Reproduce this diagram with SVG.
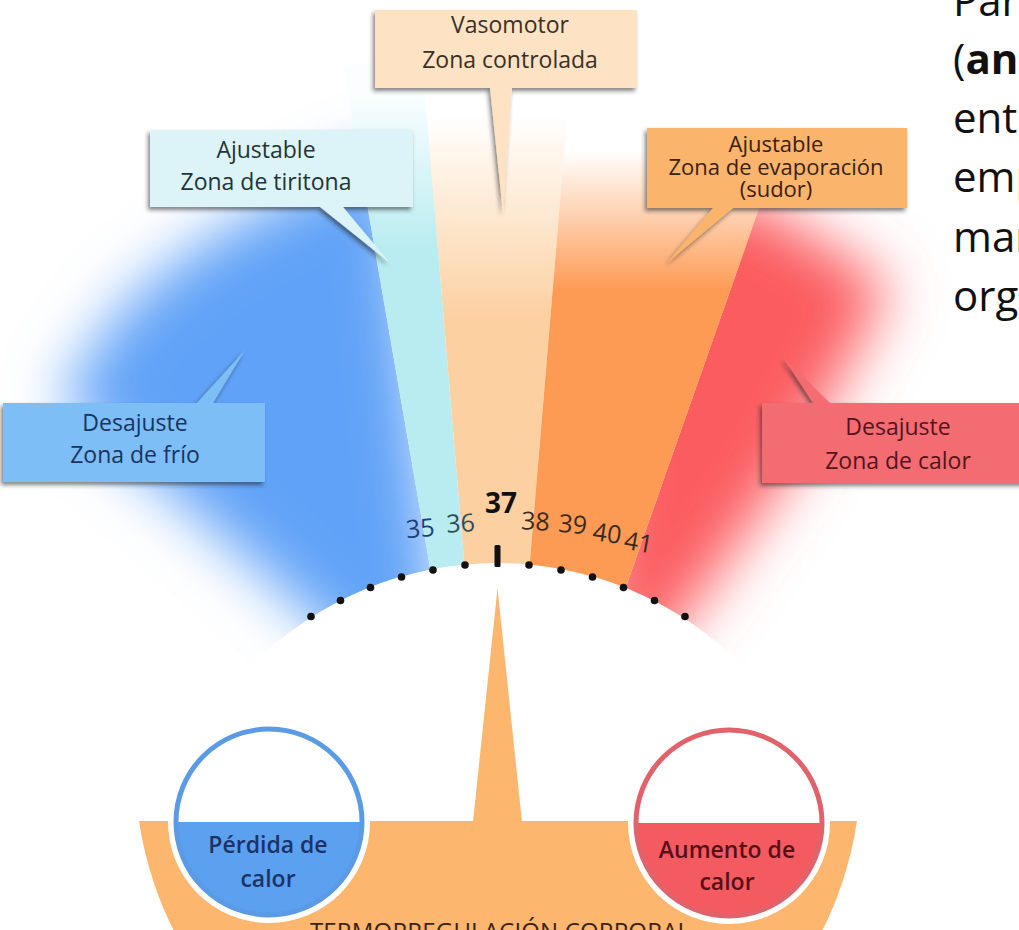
<svg xmlns="http://www.w3.org/2000/svg" width="1019" height="930" viewBox="0 0 1019 930">
<defs>
<style>
.bx{font-family:"Open Sans","Noto Sans",sans-serif;font-size:23px;text-anchor:middle}
.ev{font-size:22px}
.cir{font-weight:600}
.num{font-family:"Open Sans","Noto Sans",sans-serif;font-size:25px;text-anchor:middle}
.big{font-size:28px;font-weight:bold}
.side{font-family:"Open Sans","Noto Sans",sans-serif;font-size:42px;fill:#111}
.dot{fill:#111}
.ring{fill:none;stroke-width:5}
</style>
<filter id="soft" filterUnits="userSpaceOnUse" x="-300" y="-300" width="1700" height="1600"><feGaussianBlur stdDeviation="30"/></filter>
<filter id="shadow" x="-10%" y="-20%" width="120%" height="150%"><feDropShadow dx="-2" dy="3" stdDeviation="2" flood-color="#222" flood-opacity="0.55"/></filter>
<clipPath id="clipBlue"><polygon points="497,953 323,-50 -300,-50 -300,1300 497,1300"/></clipPath>
<clipPath id="clipRed"><polygon points="497,953 850,-50 1300,-50 1300,1300 497,1300"/></clipPath>
<linearGradient id="gCyan" gradientUnits="userSpaceOnUse" x1="0" y1="92" x2="0" y2="250"><stop offset="0" stop-color="#b8ecf0" stop-opacity="0.05"/><stop offset="1" stop-color="#b8ecf0"/></linearGradient>
<linearGradient id="gPeach" gradientUnits="userSpaceOnUse" x1="0" y1="115" x2="0" y2="320"><stop offset="0" stop-color="#fcd0a0" stop-opacity="0"/><stop offset="1" stop-color="#fcd0a0"/></linearGradient>
<linearGradient id="gOrange" gradientUnits="userSpaceOnUse" x1="0" y1="150" x2="0" y2="290"><stop offset="0" stop-color="#fd9b55" stop-opacity="0"/><stop offset="1" stop-color="#fd9b55"/></linearGradient>
</defs>
<rect width="1019" height="930" fill="#ffffff"/>

<g id="fan">
  <g clip-path="url(#clipBlue)"><polygon filter="url(#soft)" fill="#60a2f7" points="480,1000 390,150 280,200 200,245 130,300 85,360 60,400 180,500 300,605 380,680"/></g>
  <g clip-path="url(#clipRed)"><polygon filter="url(#soft)" fill="#fb5b5f" points="560,950 640,180 760,205 890,285 790,470 705,590 640,670"/></g>
  <polygon fill="url(#gCyan)" points="497,953 343,66 421.7,56"/>
  <polygon fill="url(#gPeach)" points="497,953 421.7,56 572.3,56"/>
  <polygon fill="url(#gOrange)" points="497,953 572.3,56 796,104"/>
  <circle cx="497" cy="908" r="345" fill="#ffffff"/>
</g>

<g id="scale">
  <circle class="dot" cx="311" cy="616.5" r="3.8"/>
  <circle class="dot" cx="340.5" cy="600.5" r="3.8"/>
  <circle class="dot" cx="370.5" cy="587.5" r="3.8"/>
  <circle class="dot" cx="401.5" cy="577" r="3.8"/>
  <circle class="dot" cx="433" cy="570" r="3.8"/>
  <circle class="dot" cx="465" cy="565" r="3.8"/>
  <rect x="494.5" y="545" width="6" height="22" rx="1.5" fill="#111"/>
  <circle class="dot" cx="529" cy="565" r="3.8"/>
  <circle class="dot" cx="561" cy="570" r="3.8"/>
  <circle class="dot" cx="592.5" cy="577" r="3.8"/>
  <circle class="dot" cx="623.5" cy="587.5" r="3.8"/>
  <circle class="dot" cx="654.5" cy="600.5" r="3.8"/>
  <circle class="dot" cx="685" cy="616.5" r="3.8"/>
  <text class="num" x="421" y="537" fill="#1f3f78" transform="rotate(-5 421 537)">35</text>
  <text class="num" x="461" y="532" fill="#2d4d55" transform="rotate(-3 461 532)">36</text>
  <text class="num big" x="501" y="513" fill="#111">37</text>
  <text class="num" x="535" y="530" fill="#3b2a1e" transform="rotate(3 535 530)">38</text>
  <text class="num" x="572" y="533" fill="#3b2a1e" transform="rotate(5 572 533)">39</text>
  <text class="num" x="606" y="542" fill="#3b2a1e" transform="rotate(8 606 542)">40</text>
  <text class="num" x="637" y="551" fill="#3b2a1e" transform="rotate(10 637 551)">41</text>
</g>

<g id="node-vasomotor">
  <path filter="url(#shadow)" fill="#fde3c3" d="M375,10 H637 V88 H512 L503,213 L490,88 H375 Z"/>
  <text class="bx" fill="#3a3027" x="510" y="33">Vasomotor</text>
  <text class="bx" fill="#3a3027" x="510" y="68">Zona controlada</text>
</g>
<g id="node-tiritona">
  <path filter="url(#shadow)" fill="#dcf4f7" d="M150,130 H413 V207 H343 L390,263 L320,207 H150 Z"/>
  <text class="bx" fill="#243438" x="266" y="158">Ajustable</text>
  <text class="bx" fill="#243438" x="266" y="190">Zona de tiritona</text>
</g>
<g id="node-evaporacion">
  <path filter="url(#shadow)" fill="#fbb46c" d="M647,128 H907 V208 H733 L667,263 L713,208 H647 Z"/>
  <text class="bx ev" fill="#3a220f" x="776" y="152">Ajustable</text>
  <text class="bx ev" fill="#3a220f" x="776" y="175">Zona de evaporación</text>
  <text class="bx ev" fill="#3a220f" x="776" y="197">(sudor)</text>
</g>
<g id="node-frio">
  <path filter="url(#shadow)" fill="#7dbef6" d="M3,403 H197 L245,350 L213,403 H265 V482 H3 Z"/>
  <text class="bx" fill="#183462" x="135" y="431">Desajuste</text>
  <text class="bx" fill="#183462" x="135" y="463">Zona de frío</text>
</g>
<g id="node-calor">
  <path filter="url(#shadow)" fill="#f26c71" d="M762,403 H813 L783,357 L830,403 H1030 V483 H762 Z"/>
  <text class="bx" fill="#55141c" x="898" y="435">Desajuste</text>
  <text class="bx" fill="#55141c" x="898" y="469">Zona de calor</text>
</g>

<g id="connectors">
  <polygon fill="#fcb66d" points="497.5,588 473,822 522,822"/>
</g>

<g id="balance">
  <path fill="#fcb66d" d="M139,821 H857 A363 363 0 0 1 139,821 Z"/>
  <text x="500" y="940" textLength="380" lengthAdjust="spacing" font-family="Open Sans, Noto Sans, sans-serif" font-size="24" fill="#3b2313" text-anchor="middle">TERMORREGULACIÓN CORPORAL</text>
</g>

<g id="node-perdida">
  <circle cx="269" cy="822" r="101" fill="#ffffff"/>
  <path fill="#5ca0f0" d="M176,822 A93 93 0 0 0 362,822 Z"/>
  <circle class="ring" cx="269" cy="822" r="93" stroke="#5b9be6"/>
  <text class="bx cir" fill="#1b3466" x="268" y="853">Pérdida de</text>
  <text class="bx cir" fill="#1b3466" x="268" y="887">calor</text>
</g>
<g id="node-aumento">
  <circle cx="729" cy="823" r="101" fill="#ffffff"/>
  <path fill="#f45b60" d="M636,823 A93 93 0 0 0 822,823 Z"/>
  <circle class="ring" cx="729" cy="823" r="93" stroke="#e0626a"/>
  <text class="bx cir" fill="#5a0f18" x="727" y="858">Aumento de</text>
  <text class="bx cir" fill="#5a0f18" x="727" y="890">calor</text>
</g>

<g id="side-text">
  <text class="side" x="953" y="16">Para</text>
  <text class="side" x="953" y="74">(<tspan font-weight="bold">ana</tspan></text>
  <text class="side" x="953" y="133">ent</text>
  <text class="side" x="953" y="192">emp</text>
  <text class="side" x="953" y="252">mar</text>
  <text class="side" x="953" y="311">orga</text>
</g>
</svg>
